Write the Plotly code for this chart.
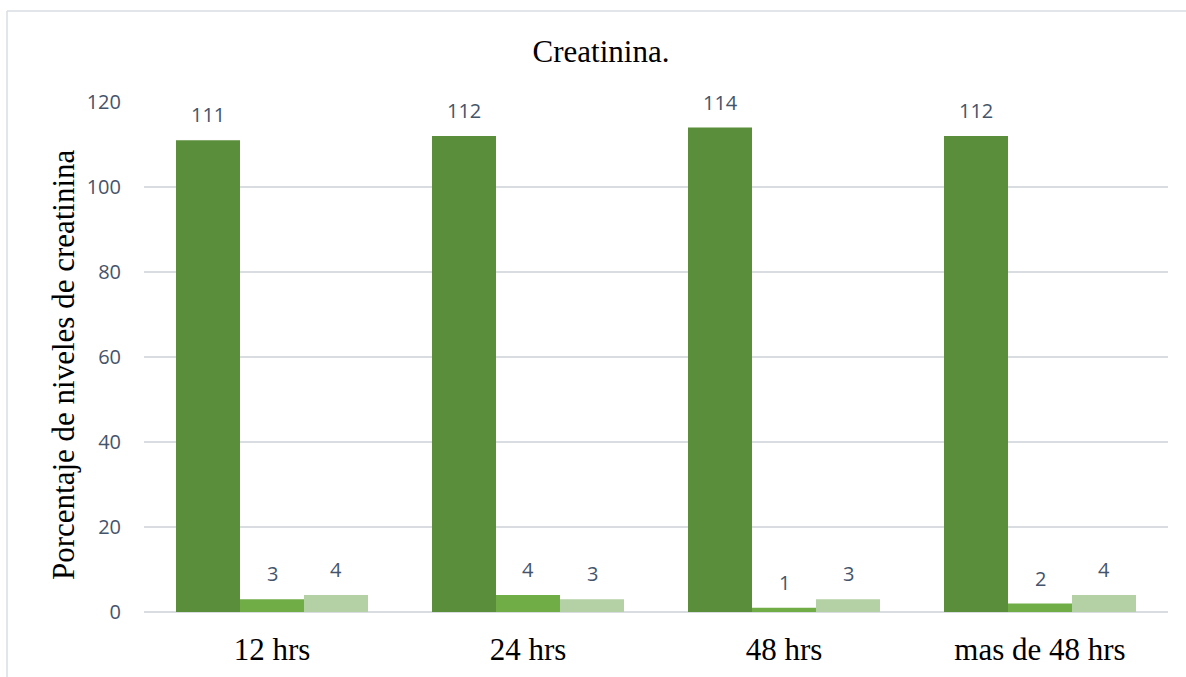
import plotly.graph_objects as go

categories = ["12 hrs", "24 hrs", "48 hrs", "mas de 48 hrs"]
serie_1 = [111, 112, 114, 112]
serie_2 = [3, 4, 1, 2]
serie_3 = [4, 3, 3, 4]
series = [("Serie 1", serie_1), ("Serie 2", serie_2), ("Serie 3", serie_3)]
colors = ["#5B8E3A", "#70AD47", "#B4D0A5"]
y_ticks = [0, 20, 40, 60, 80, 100, 120]

W, H = 1186, 677
L, R, T, B = 144, 18, 102, 65

fig = go.Figure()
for (name, vals), c in zip(series, colors):
    fig.add_trace(go.Bar(x=categories, y=vals, name=name, marker=dict(color=c, line=dict(width=0))))

BARGAP = 0.25
n = len(series)
bw = (1 - BARGAP) / n
annotations = []
for i, (name, vals) in enumerate(series):
    for j, v in enumerate(vals):
        annotations.append(dict(
            x=j + (i - (n - 1) / 2) * bw, y=v, xref="x", yref="y",
            text=str(v), showarrow=False, xanchor="center", yanchor="bottom", yshift=10,
            font=dict(family="Open Sans", size=20, color="#44546A")))

pw = W - L - R
ph = H - T - B
# y-axis title
annotations.append(dict(
    x=(63 - L) / pw, y=(H - B - 365) / ph, xref="paper", yref="paper",
    xanchor="center", yanchor="middle",
    text="Porcentaje de niveles de creatinina", textangle=-90, showarrow=False,
    font=dict(family="Liberation Serif", size=31, color="#000000")))

# chart frame
fx0 = (7 - L) / pw
fy0 = (H - B - 11) / ph
shapes = [
    dict(type="line", xref="paper", yref="paper", x0=fx0, x1=1.2, y0=fy0, y1=fy0,
         line=dict(color="#D9DDE2", width=1.5)),
    dict(type="line", xref="paper", yref="paper", x0=fx0, x1=fx0, y0=fy0, y1=-0.3,
         line=dict(color="#D9DDE2", width=1.5)),
]

fig.update_layout(
    width=W, height=H,
    margin=dict(l=L, r=R, t=T, b=B, autoexpand=False),
    paper_bgcolor="white", plot_bgcolor="white",
    barmode="group", bargap=BARGAP, bargroupgap=0,
    showlegend=False,
    title=dict(text="Creatinina.", x=601 / W, xref="container", xanchor="center",
               y=1 - 51 / H, yref="container", yanchor="middle",
               font=dict(family="Liberation Serif", size=31, color="#000000")),
    annotations=annotations,
    shapes=shapes,
)
fig.update_xaxes(
    automargin=False,
    showgrid=False, showline=False, zeroline=False,
    ticks="outside", ticklen=10, tickcolor="rgba(0,0,0,0)",
    tickfont=dict(family="Liberation Serif", size=31, color="#000000"),
)
fig.update_yaxes(
    automargin=False,
    range=[0, 120], tickvals=y_ticks, ticktext=[str(t) for t in y_ticks],
    showgrid=True, gridcolor="#D9DDE2", gridwidth=1.5,
    zeroline=True, zerolinecolor="#D9DDE2", zerolinewidth=1.5,
    ticks="outside", ticklen=18, tickcolor="rgba(0,0,0,0)",
    tickfont=dict(family="Open Sans", size=20, color="#44546A"),
)

fig.write_html("out.html", config={"displayModeBar": False},
               post_script="document.body.style.margin='0';")
